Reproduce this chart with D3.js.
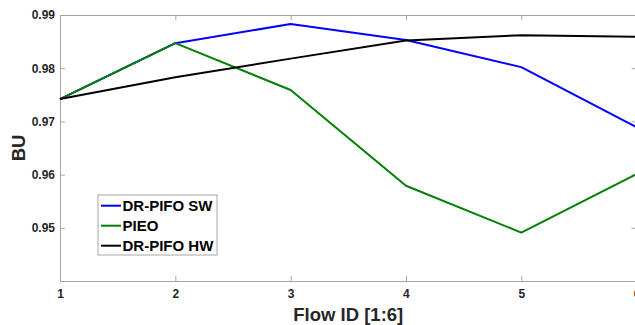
<!DOCTYPE html>
<html>
<head>
<meta charset="utf-8">
<script src="https://cdn.jsdelivr.net/npm/d3@7"></script>
<style>
  body { margin: 0; background: #fff; }
  svg { display: block; font-family: "Liberation Sans", Arial, sans-serif; }
</style>
</head>
<body>
<div id="chart"></div>
<script>
// flow ids on the x axis
const flows = [1, 2, 3, 4, 5, 6];
const xTicks = [1, 2, 3, 4, 5, 6];
const yTicks = [0.95, 0.96, 0.97, 0.98, 0.99];

// BU per flow
const drPifoSW = [0.9742, 0.9847, 0.9883, 0.9853, 0.9802, 0.9689];
const pieo     = [0.9742, 0.9847, 0.9759, 0.9579, 0.9491, 0.9601];
const drPifoHW = [0.9742, 0.9783, 0.9818, 0.9852, 0.9862, 0.9859];

const seriesNames = ["DR-PIFO SW", "PIEO", "DR-PIFO HW"];
const seriesColors = ["#0000ff", "#008000", "#000000"];
const seriesData = [drPifoSW, pieo, drPifoHW];

const width = 635, height = 325;
const plotL = 60, plotT = 15, plotR = 636.6, plotB = 281;
const axisColor = "#a6a6a6";

const svg = d3.select("#chart").append("svg")
  .attr("width", width)
  .attr("height", height);

const x = d3.scaleLinear().domain([1, 6]).range([plotL, plotR]);
const y = d3.scaleLinear().domain([0.94, 0.99]).range([plotB, plotT]);

// bottom axis, ticks pointing inward
const xAxis = svg.append("g")
  .attr("transform", "translate(0," + plotB + ")")
  .call(d3.axisBottom(x).tickValues(xTicks).tickFormat(d3.format("d"))
    .tickSizeInner(-5).tickSizeOuter(0).tickPadding(8));

// left axis
const yAxis = svg.append("g")
  .attr("transform", "translate(" + plotL + ",0)")
  .call(d3.axisLeft(y).tickValues(yTicks).tickFormat(d3.format(".2f"))
    .tickSizeInner(-5).tickSizeOuter(0).tickPadding(5));

// top and right box edges with inward ticks, no labels
const xTop = svg.append("g")
  .attr("transform", "translate(0," + plotT + ")")
  .call(d3.axisTop(x).tickValues(xTicks).tickFormat("")
    .tickSizeInner(-5).tickSizeOuter(0));

const yRight = svg.append("g")
  .attr("transform", "translate(" + plotR + ",0)")
  .call(d3.axisRight(y).tickValues(yTicks).tickFormat("")
    .tickSizeInner(-5).tickSizeOuter(0));

[xAxis, yAxis, xTop, yRight].forEach(g => {
  g.select(".domain").attr("stroke", axisColor).attr("stroke-width", 1);
  g.selectAll(".tick line").attr("stroke", axisColor);
  g.selectAll(".tick text")
    .attr("fill", "#262626")
    .style("font-size", "12px")
    .style("font-weight", "bold")
    .style("font-family", "'Liberation Sans', Arial, sans-serif");
});

// the lines
const line = d3.line()
  .x((d, i) => x(flows[i]))
  .y(d => y(d));

seriesData.forEach((vals, i) => {
  svg.append("path")
    .datum(vals)
    .attr("fill", "none")
    .attr("stroke", seriesColors[i])
    .attr("stroke-width", 2)
    .attr("stroke-linejoin", "round")
    .attr("d", line);
});

// axis titles
svg.append("text")
  .attr("x", (plotL + plotR) / 2)
  .attr("y", 321)
  .attr("text-anchor", "middle")
  .style("font-size", "18.5px")
  .style("font-weight", "bold")
  .attr("fill", "#262626")
  .text("Flow ID [1:6]");

svg.append("text")
  .attr("transform", "translate(25," + ((plotT + plotB) / 2) + ") rotate(-90)")
  .attr("text-anchor", "middle")
  .style("font-size", "18.5px")
  .style("font-weight", "bold")
  .attr("fill", "#262626")
  .text("BU");

// legend
const legend = svg.append("g").attr("transform", "translate(98,195)");
legend.append("rect")
  .attr("width", 119)
  .attr("height", 60)
  .attr("fill", "#fff")
  .attr("stroke", axisColor);

seriesNames.forEach((name, i) => {
  const ly = 10.7 + i * 20;
  legend.append("line")
    .attr("x1", 3).attr("x2", 23)
    .attr("y1", ly).attr("y2", ly)
    .attr("stroke", seriesColors[i])
    .attr("stroke-width", 2);
  legend.append("text")
    .attr("x", 24.5)
    .attr("y", ly)
    .attr("dy", "0.36em")
    .style("font-size", "15px")
    .style("font-weight", "bold")
    .attr("fill", "#000")
    .text(name);
});
</script>
</body>
</html>
